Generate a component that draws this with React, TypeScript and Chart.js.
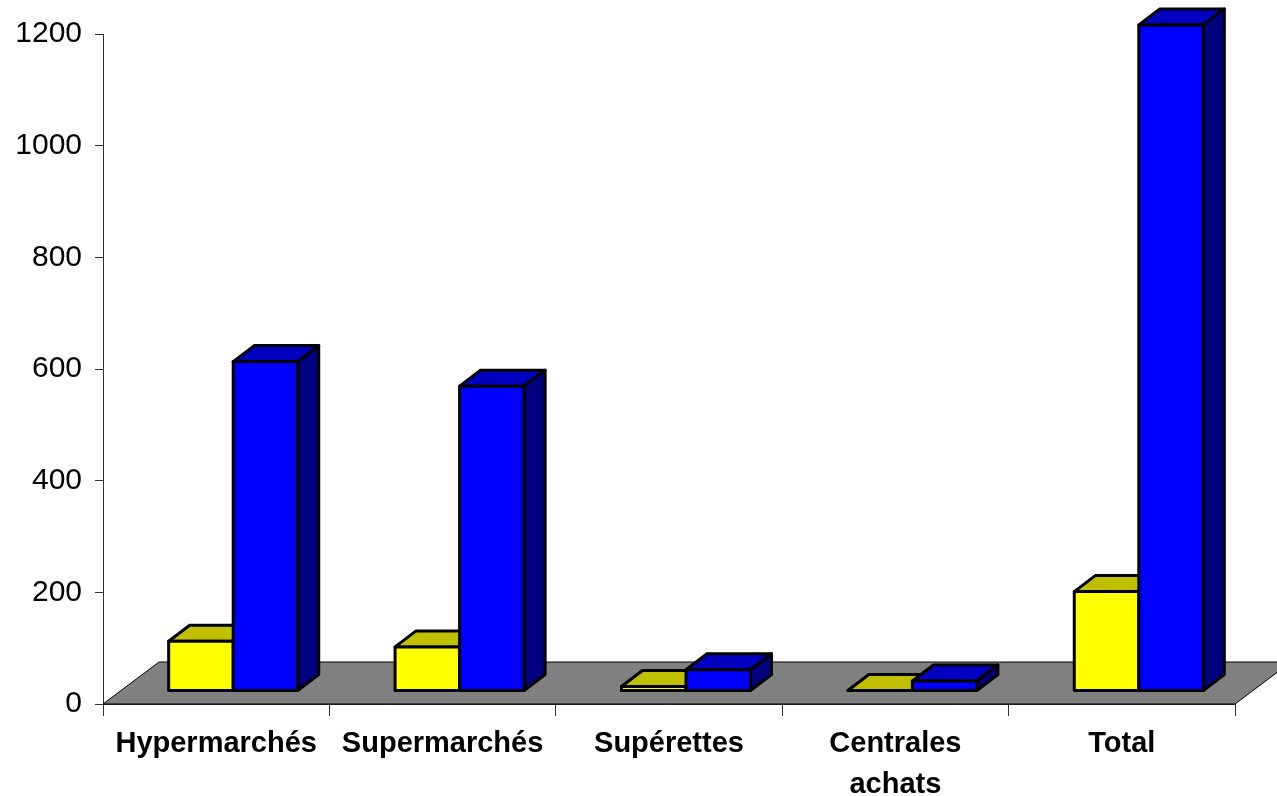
import React, { useEffect, useRef } from 'react';
import { Chart, registerables } from 'chart.js';

Chart.register(...registerables);

// ---- data ----
const categories: (string | string[])[] = ['Hypermarchés', 'Supermarchés', 'Supérettes', ['Centrales', 'achats'], 'Total'];
const seriesYellow = [89, 79, 8, 1, 178];
const seriesBlue = [590, 546, 38, 18, 1193];
const yTicks = [0, 200, 400, 600, 800, 1000, 1200];

// ---- styles ----
const FONT = '"Liberation Sans", Arial, Helvetica, sans-serif';
const AXIS_COLOR = '#333333';
const faceColors = [
  { front: '#FFFF00', top: '#C0C000', side: '#808000' },
  { front: '#0000FF', top: '#0000C0', side: '#000080' },
];
const DEPTH_X = 21;
const DEPTH_Y = -16;
const SHIFT_X = 17;
const SHIFT_Y = -13;
const FLOOR_X = 56;
const FLOOR_Y = -42;

const threeD = {
  id: 'threeD',
  beforeDatasetsDraw(chart: any) {
    const { ctx } = chart;
    const xs = chart.scales.x;
    const ys = chart.scales.y;
    const y0 = ys.getPixelForValue(0);
    ctx.save();
    ctx.beginPath();
    ctx.moveTo(xs.left, y0);
    ctx.lineTo(xs.right, y0);
    ctx.lineTo(xs.right + FLOOR_X, y0 + FLOOR_Y);
    ctx.lineTo(xs.left + FLOOR_X, y0 + FLOOR_Y);
    ctx.closePath();
    ctx.fillStyle = '#808080';
    ctx.fill();
    ctx.strokeStyle = '#000000';
    ctx.lineWidth = 1;
    ctx.stroke();
    ctx.restore();
    ctx.save();
    ctx.translate(SHIFT_X, SHIFT_Y);
  },
  afterDatasetsDraw(chart: any) {
    const { ctx } = chart;
    // still translated by SHIFT; draw 3D faces in category order, left series first
    ctx.lineWidth = 3;
    ctx.lineJoin = 'round';
    ctx.strokeStyle = '#000000';
    const n = chart.data.labels.length;
    for (let i = 0; i < n; i++) {
      chart.data.datasets.forEach((_: any, di: number) => {
        const bar = chart.getDatasetMeta(di).data[i];
        if (!bar) return;
        const colors = faceColors[di];
        const x0 = bar.x - bar.width / 2;
        const x1 = bar.x + bar.width / 2;
        const top = bar.y;
        const base = bar.base;
        // top face
        ctx.beginPath();
        ctx.moveTo(x0, top);
        ctx.lineTo(x1, top);
        ctx.lineTo(x1 + DEPTH_X, top + DEPTH_Y);
        ctx.lineTo(x0 + DEPTH_X, top + DEPTH_Y);
        ctx.closePath();
        ctx.fillStyle = colors.top;
        ctx.fill();
        ctx.stroke();
        // side face
        ctx.beginPath();
        ctx.moveTo(x1, top);
        ctx.lineTo(x1 + DEPTH_X, top + DEPTH_Y);
        ctx.lineTo(x1 + DEPTH_X, base + DEPTH_Y);
        ctx.lineTo(x1, base);
        ctx.closePath();
        ctx.fillStyle = colors.side;
        ctx.fill();
        ctx.stroke();
        // front face
        ctx.beginPath();
        ctx.rect(x0, top, x1 - x0, base - top);
        ctx.fillStyle = colors.front;
        ctx.fill();
        ctx.stroke();
      });
    }
    ctx.restore();
  },
};

export default function App() {
  const ref = useRef<HTMLCanvasElement | null>(null);
  useEffect(() => {
    if (!ref.current) return;
    const chart = new Chart(ref.current, {
      type: 'bar',
      data: {
        labels: categories as any,
        datasets: [
          {
            label: 'Série 1',
            data: seriesYellow,
            backgroundColor: faceColors[0].front,
            borderWidth: 0,
            clip: false as any,
          },
          {
            label: 'Série 2',
            data: seriesBlue,
            backgroundColor: faceColors[1].front,
            borderWidth: 0,
            clip: false as any,
          },
        ],
      },
      options: {
        responsive: false,
        animation: false,
        events: [],
        devicePixelRatio: 1,
        layout: { padding: { top: 34, right: 42, left: 0, bottom: 0 } },
        datasets: { bar: { barPercentage: 1, categoryPercentage: 0.57 } },
        plugins: { legend: { display: false }, tooltip: { enabled: false }, title: { display: false } },
        scales: {
          x: {
            offset: true,
            grid: { display: true, drawOnChartArea: false, drawTicks: true, tickLength: 12, color: AXIS_COLOR, offset: true },
            border: { display: true, color: AXIS_COLOR, width: 1 },
            ticks: {
              autoSkip: false,
              maxRotation: 0,
              minRotation: 0,
              padding: 8,
              color: '#000000',
              font: { family: FONT, size: 29, weight: 'bold', lineHeight: 1.4 },
            },
            afterFit: (scale: any) => {
              scale.height = 92;
            },
          },
          y: {
            min: 0,
            max: 1200,
            afterBuildTicks: (scale: any) => {
              scale.ticks = yTicks.map((v) => ({ value: v }));
            },
            grid: { display: true, drawOnChartArea: false, drawTicks: true, tickLength: 8, color: AXIS_COLOR },
            border: { display: true, color: AXIS_COLOR, width: 1 },
            ticks: {
              padding: 13,
              color: '#000000',
              font: { family: FONT, size: 30 },
              callback: (v: any) => String(v),
            },
            afterFit: (scale: any) => {
              scale.width = 103;
            },
          },
        },
      },
      plugins: [threeD],
    });
    return () => chart.destroy();
  }, []);
  return (
    <div style={{ position: 'absolute', left: 0, top: 0, width: 1277, height: 796, background: '#ffffff' }}>
      <canvas ref={ref} width={1277} height={796} style={{ width: 1277, height: 796, display: 'block' }} />
    </div>
  );
}
